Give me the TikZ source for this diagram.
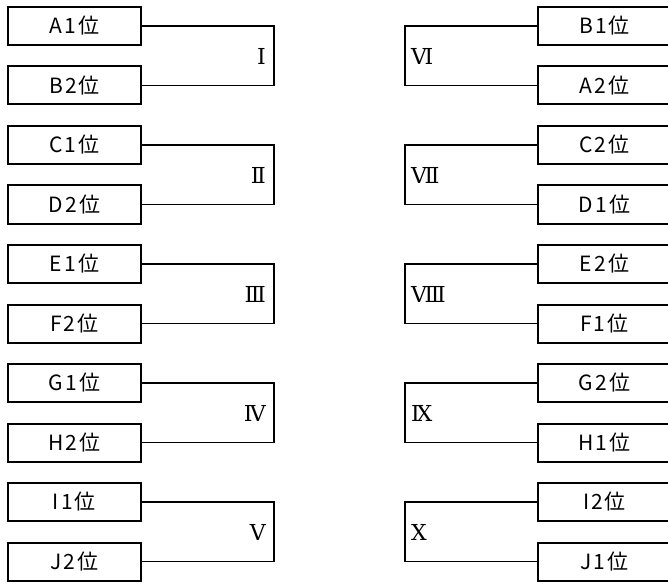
\documentclass[tikz,border=0pt]{standalone}
\usepackage{fontspec}
\setmainfont{Noto Sans CJK JP}[LetterSpace=10]
\newfontfamily\numfont{DejaVu Serif}
\usetikzlibrary{positioning}

\begin{document}
\begin{tikzpicture}[x=1pt,y=-1pt,team/.style={draw,line width=2pt,minimum width=133pt,minimum height=38pt,inner sep=0pt,font=\fontsize{21}{23}\selectfont},bracket/.style={line width=1.4pt},round label/.style={inner sep=0pt,font=\numfont\fontsize{22}{24}\selectfont}]
    \useasboundingbox (0,0) rectangle (668,585);
    % left side
    \node[team] (a1) at (74.5,26) {A1位};
    \node[team] (b2) at (74.5,85.5) {B2位};
    \node[team] (c1) at (74.5,145) {C1位};
    \node[team] (d2) at (74.5,204.5) {D2位};
    \node[team] (e1) at (74.5,264) {E1位};
    \node[team] (f2) at (74.5,323.5) {F2位};
    \node[team] (g1) at (74.5,383) {G1位};
    \node[team] (h2) at (74.5,442.5) {H2位};
    \node[team] (i1) at (74.5,502) {I1位};
    \node[team] (j2) at (74.5,561.5) {J2位};
    % right side
    \node[team] (b1) at (604.5,26) {B1位};
    \node[team] (a2) at (604.5,85.5) {A2位};
    \node[team] (c2) at (604.5,145) {C2位};
    \node[team] (d1) at (604.5,204.5) {D1位};
    \node[team] (e2) at (604.5,264) {E2位};
    \node[team] (f1) at (604.5,323.5) {F1位};
    \node[team] (g2) at (604.5,383) {G2位};
    \node[team] (h1) at (604.5,442.5) {H1位};
    \node[team] (i2) at (604.5,502) {I2位};
    \node[team] (j1) at (604.5,561.5) {J1位};

    % bracket corners
    \coordinate (k1) at (274,56);
    \coordinate (k2) at (274,175);
    \coordinate (k3) at (274,294);
    \coordinate (k4) at (274,413);
    \coordinate (k5) at (274,532);
    \coordinate (k6) at (405,56);
    \coordinate (k7) at (405,175);
    \coordinate (k8) at (405,294);
    \coordinate (k9) at (405,413);
    \coordinate (k10) at (405,532);

    \node[round label] (r1) [left=8pt of k1] {Ⅰ};
    \node[round label] (r2) [left=8pt of k2] {Ⅱ};
    \node[round label] (r3) [left=8pt of k3] {Ⅲ};
    \node[round label] (r4) [left=8pt of k4] {Ⅳ};
    \node[round label] (r5) [left=8pt of k5] {Ⅴ};
    \node[round label] (r6) [right=6pt of k6] {Ⅵ};
    \node[round label] (r7) [right=6pt of k7] {Ⅶ};
    \node[round label] (r8) [right=6pt of k8] {Ⅷ};
    \node[round label] (r9) [right=6pt of k9] {Ⅸ};
    \node[round label] (r10) [right=6pt of k10] {Ⅹ};

    \draw[bracket] (a1.east) -| (k1) |- (b2.east);
    \draw[bracket] (c1.east) -| (k2) |- (d2.east);
    \draw[bracket] (e1.east) -| (k3) |- (f2.east);
    \draw[bracket] (g1.east) -| (k4) |- (h2.east);
    \draw[bracket] (i1.east) -| (k5) |- (j2.east);
    \draw[bracket] (b1.west) -| (k6) |- (a2.west);
    \draw[bracket] (c2.west) -| (k7) |- (d1.west);
    \draw[bracket] (e2.west) -| (k8) |- (f1.west);
    \draw[bracket] (g2.west) -| (k9) |- (h1.west);
    \draw[bracket] (i2.west) -| (k10) |- (j1.west);
\end{tikzpicture}
\end{document}
